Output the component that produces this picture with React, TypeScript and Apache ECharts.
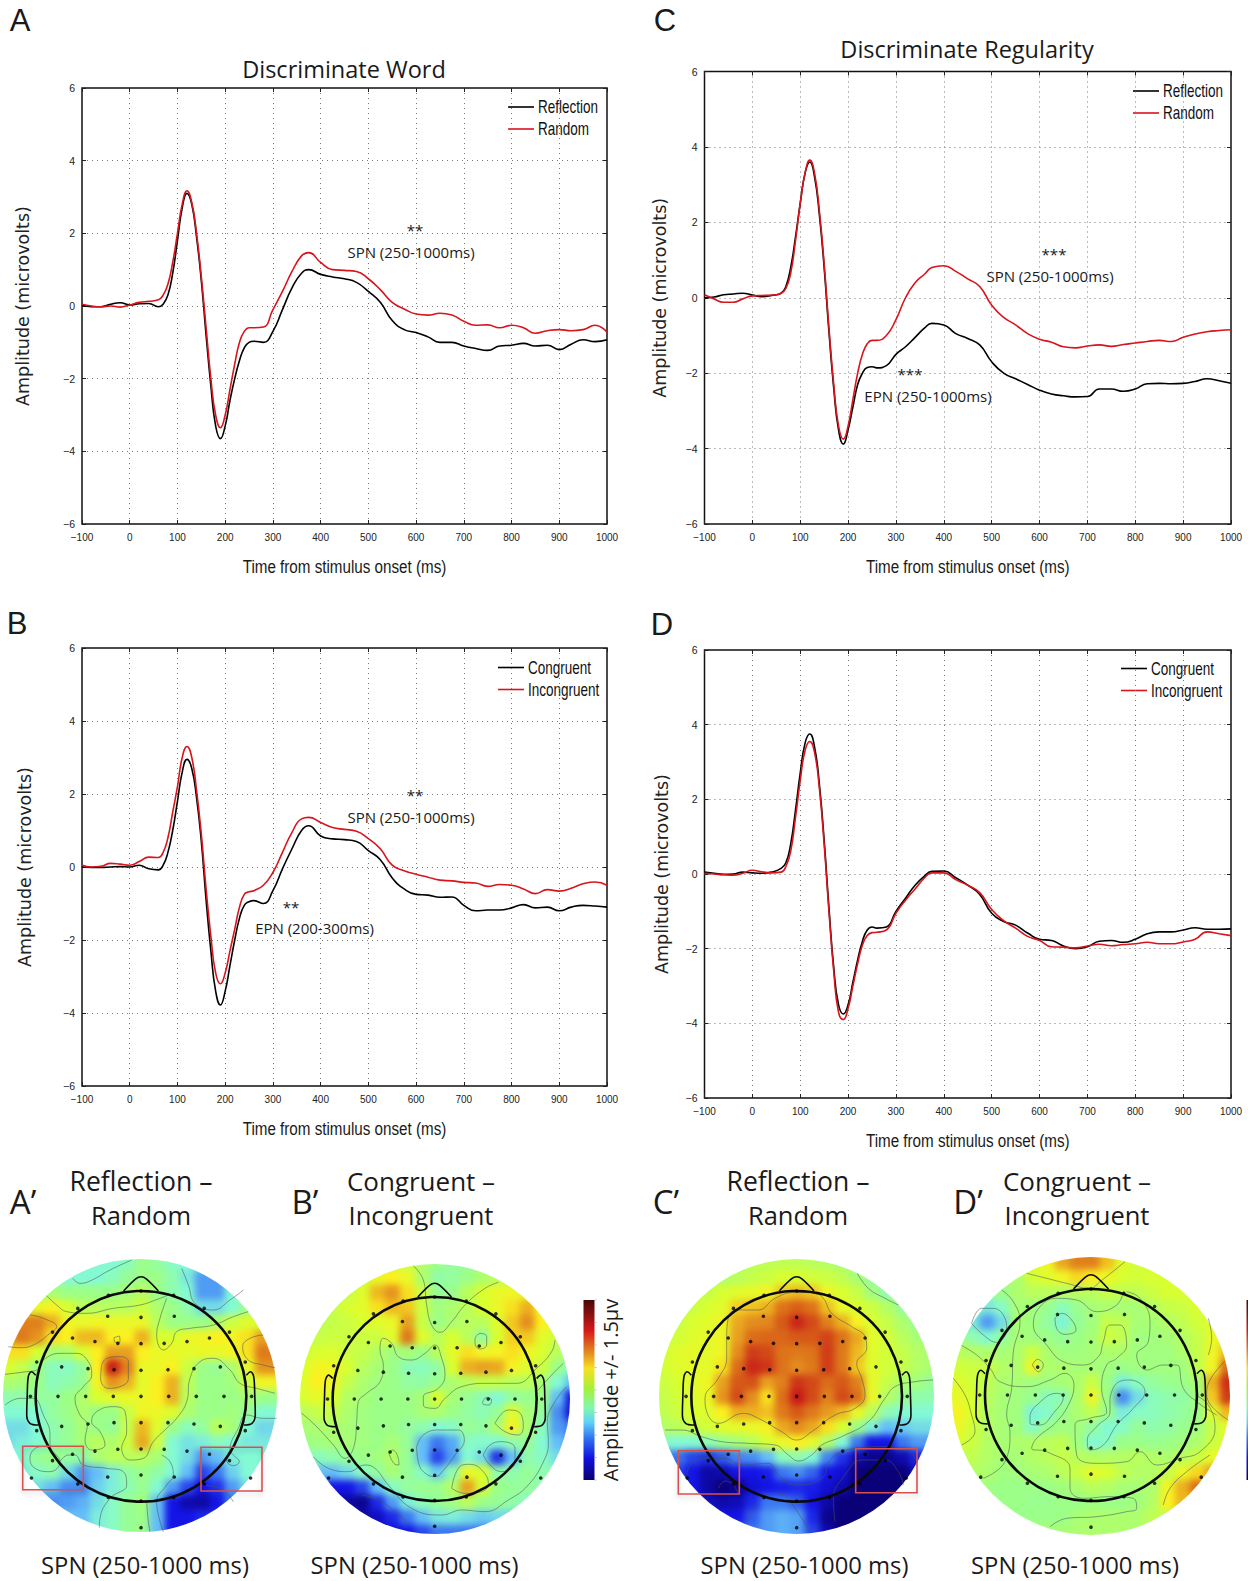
import React, { useEffect, useRef } from "react";
import * as echarts from "echarts";

// ---------- waveform data ----------
const times = [-100,-80,-60,-40,-20,0,20,40,60,70,80,90,100,110,120,130,140,150,160,170,180,190,200,210,220,230,240,250,260,280,300,320,340,360,375,400,425,450,475,500,525,550,575,600,625,650,675,700,725,750,775,800,825,850,875,900,925,950,975,1000];
const aBlack = [.02,-.02,-.02,.05,.09,.03,.06,.07,-.02,.05,.3,.9,1.8,2.7,3.1,2.8,1.9,.7,-.8,-2.2,-3.3,-3.65,-3.3,-2.6,-2,-1.5,-1.15,-1,-.97,-1,-.7,-.1,.5,.9,1,.87,.8,.75,.65,.4,.1,-.4,-.65,-.73,-.85,-1,-1,-1.1,-1.17,-1.22,-1.1,-1.08,-1.03,-1.1,-1.08,-1.2,-1.05,-.93,-.98,-.93];
const aRed = [.05,0,-.02,0,-.03,.03,.1,.13,.17,.3,.6,1.2,2,2.8,3.17,2.85,2,.8,-.6,-2,-3,-3.35,-3,-2.3,-1.6,-1,-.7,-.6,-.6,-.58,-.1,.4,.95,1.38,1.47,1.2,1,.98,.95,.75,.45,.1,-.08,-.22,-.25,-.2,-.25,-.42,-.53,-.52,-.6,-.53,-.6,-.75,-.68,-.65,-.68,-.65,-.53,-.72];
const cBlack = [0,.02,.08,.1,.12,.07,.03,.06,.12,.3,.8,1.6,2.5,3.3,3.6,3.2,2.2,.8,-.9,-2.4,-3.5,-3.88,-3.5,-2.9,-2.3,-2,-1.85,-1.83,-1.86,-1.8,-1.5,-1.3,-1.05,-.8,-.68,-.72,-.95,-1.08,-1.25,-1.7,-2,-2.15,-2.3,-2.45,-2.55,-2.6,-2.63,-2.62,-2.42,-2.42,-2.48,-2.42,-2.28,-2.27,-2.28,-2.27,-2.22,-2.15,-2.2,-2.27];
const cRed = [.08,-.03,-.12,-.12,-.03,.05,.06,.07,.12,.25,.65,1.5,2.5,3.3,3.65,3.3,2.3,.9,-.8,-2.3,-3.4,-3.75,-3.4,-2.7,-2,-1.5,-1.22,-1.13,-1.13,-1,-.58,0,.4,.63,.8,.85,.7,.5,.3,-.2,-.52,-.72,-.95,-1.1,-1.18,-1.3,-1.33,-1.28,-1.25,-1.29,-1.24,-1.2,-1.16,-1.13,-1.16,-1.05,-.96,-.9,-.87,-.85];
const bBlack = [0,-.01,-.01,0,.01,0,.05,-.05,-.08,.05,.4,1,1.8,2.6,2.95,2.7,1.9,.7,-.9,-2.3,-3.4,-3.78,-3.4,-2.7,-2,-1.4,-1.05,-.95,-.92,-1,-.65,-.05,.5,1,1.13,.85,.77,.75,.7,.45,.2,-.3,-.6,-.75,-.77,-.83,-.82,-1.05,-1.2,-1.18,-1.18,-1.12,-1.03,-1.12,-1.1,-1.2,-1.1,-1.05,-1.07,-1.1];
const bRed = [.05,0,.02,.1,.08,.05,.15,.27,.26,.4,.8,1.5,2.2,3,3.3,3,2.1,.9,-.6,-1.9,-2.9,-3.2,-2.9,-2.3,-1.7,-1.1,-.75,-.68,-.65,-.5,-.15,.4,.95,1.32,1.36,1.22,1.08,1.03,.98,.78,.5,.05,-.1,-.2,-.28,-.36,-.38,-.42,-.44,-.53,-.48,-.5,-.6,-.73,-.62,-.66,-.58,-.46,-.41,-.5];
const dBlack = [.05,.02,-.01,0,.05,.03,.02,.05,.15,.3,.8,1.7,2.7,3.5,3.75,3.4,2.4,.9,-.9,-2.5,-3.5,-3.75,-3.5,-2.9,-2.3,-1.8,-1.5,-1.42,-1.45,-1.42,-1,-.65,-.3,-.05,.07,.08,-.1,-.3,-.55,-1.05,-1.27,-1.37,-1.58,-1.75,-1.78,-1.93,-2,-1.95,-1.8,-1.78,-1.83,-1.75,-1.6,-1.55,-1.55,-1.5,-1.44,-1.48,-1.48,-1.47];
const dRed = [.02,0,-.02,-.03,.02,.1,.06,.03,.05,.2,.6,1.5,2.5,3.3,3.55,3.25,2.3,.8,-1,-2.6,-3.7,-3.9,-3.6,-3,-2.4,-1.9,-1.65,-1.57,-1.56,-1.5,-1.05,-.7,-.4,-.1,.03,.03,-.15,-.3,-.5,-.95,-1.25,-1.45,-1.67,-1.78,-1.95,-1.96,-1.98,-1.93,-1.88,-1.92,-1.89,-1.87,-1.83,-1.87,-1.87,-1.82,-1.75,-1.55,-1.6,-1.65];

// ---------- scalp map cell values (jet scale -5 .. 5), 19 x 19 cells ----------
const mapA = [
[-1,-1,-1,-1,-1,-1,-1,-1,-.7,0,-.3,-.8,-1,-1,-1,-1,-1,-1,-1],
[-1,-1,-1,-.6,-1,-1,-1,-.7,-.2,0,0,-.5,-1.3,-2.5,-2.5,-1.5,-1,-1,-1],
[0,0,0,.2,0,0,0,0,.2,.5,0,-.5,-1,-2.5,-2.5,-1,-.5,-.5,-.5],
[1,1,1.5,1.9,1,.5,.5,.5,.5,.8,.3,0,-.5,-1.5,-1.5,-1,0,.3,.3],
[2.8,3.5,3.5,2.8,1.7,1.5,1.7,1.5,1.5,1.5,.5,0,0,0,.3,.8,1.2,1,1],
[3.2,3.6,3.2,2.2,2,2.7,2.7,2,2,2.8,1,1,1.5,1.7,2,1.8,2.2,3,2.8],
[2.2,2.2,1,.2,.3,1,2,3,3,2,1.5,1.5,1.3,1.5,1.5,1.7,2.2,3.6,3.6],
[1,.7,0,-.7,-.8,-.3,2,4.9,3.5,1.5,1.5,2,.8,0,-.2,.3,1.5,3.2,3.2],
[.3,.2,0,-.7,-.5,-.2,1.7,3.2,2.8,1.3,2,2.8,.6,0,0,.1,.8,1.7,1.7],
[-.5,-.5,-.3,-.3,0,.3,1,1.3,1.5,1.5,2,2.8,.5,0,0,0,.2,0,0],
[-1,-1,-1,-.3,0,.3,0,0,.7,1.7,1.5,1.2,.3,0,0,.1,-.2,-1,-1],
[-1.5,-1.5,-1,-.5,-.2,.2,0,-.2,.7,2.7,1.2,0,-.7,-.3,.5,.2,-1,-1.6,-1.6],
[-1.5,-1.2,-1,-.5,-.2,.2,.5,.3,.8,2.9,.8,-1,-1.4,-1.2,-.7,-1,-1.3,-1.3,-1.3],
[-1,-1,-.2,0,-.3,-.5,.2,.5,.5,.5,.2,-1,-1.5,-2.5,-2,-1.2,-1,-1,-1],
[-1.2,-1.2,-.8,-.5,-1.5,-2.5,-2,-1.2,-.4,0,-.4,-1,-2,-3.5,-3,-1.7,-1,-1,-1],
[-1.5,-1.5,-1.5,-2,-2.7,-2.7,-1.7,-1.2,-.6,-.1,-1,-2.5,-3.5,-4,-3.7,-2.5,-1.5,-1.5,-1.5],
[-2.7,-2.7,-2.7,-2.7,-2.5,-2.2,-1.5,-.8,-.2,.1,-2,-4,-4.5,-4.6,-4,-3,-3,-3,-3],
[-2,-2,-2,-2,-2,-2,-1.2,-.8,-.2,0,-2,-4,-4,-3.8,-3.8,-3.8,-3.8,-3.8,-3.8],
[-2,-2,-2,-2,-2,-2,-1.2,-.8,-.2,0,-2,-4,-4,-3.8,-3.8,-3.8,-3.8,-3.8,-3.8],
];
const mapB = [
[.8,.8,.8,.8,.8,.8,.8,.8,.4,0,-.3,-.2,.2,.4,.5,.5,.5,.5,.5],
[.8,.8,.8,.8,.8,1.5,2,1.5,.3,-.4,-.3,0,.3,.5,.7,.7,.7,.7,.7],
[.5,.5,.5,.7,1.2,2.7,3.2,2.2,.8,-.2,-.1,.5,1,1.5,1.6,1.4,1,1,1],
[.5,.5,.7,1,1.3,2.2,2.7,2.5,.8,.1,.3,.5,1,1.5,2.2,2.8,2,1.3,1.3],
[.5,.5,.7,.8,1,1.2,1.5,3,.8,0,.3,.5,.5,1.2,2.5,3.3,2,1,1],
[.6,.7,.8,.8,.8,.8,1.2,3.6,1.2,.5,1,.5,-.3,1,2.4,2.5,1.3,.8,.8],
[.8,1,1.1,.8,.7,.4,.1,.2,0,.5,1.3,2.2,1.7,1.8,2.2,1.7,1,.5,0],
[1,1.8,1.7,1,.5,.2,0,-.6,-.7,-.4,1,2.8,3,2.9,1.8,1.2,.8,0,-.8],
[1.2,2,1.7,.7,.3,.1,0,-.3,-.4,-.1,.3,.5,.7,.7,.5,.5,.2,-1,-2],
[1,1.4,1.1,.4,.2,0,0,0,.2,1,.2,-.2,-.6,-1,-.3,-.1,0,-2,-4],
[.5,.7,.7,.3,.1,0,0,0,.2,.3,0,-.3,-.6,-.2,1.2,.2,-.3,-2.7,-4.2],
[.2,.3,.3,.2,.1,0,0,-.3,-.5,-1,-.8,-.2,-.3,.3,1.8,.3,-.7,-2.5,-3],
[0,.1,.2,.2,.1,0,.2,-.2,-2,-3,-2.3,-.8,-.9,-1,-.5,-.2,-1,-2,-2.5],
[-.5,-.7,-.5,-.2,0,.1,.4,-.2,-2,-3.5,-2.5,-1,-1.5,-3.7,-2,-.5,-.8,-1.5,-1.5],
[-2,-2,-2,-1.5,-.8,-.3,.2,-.2,-.8,-1.8,-.5,1.5,1,-.5,-.5,-.2,-.5,-.8,-.8],
[-4,-4,-4,-4,-3.5,-2,-.8,-.3,-.1,-.1,.4,3,1,0,-.2,-.3,-.5,-.5,-.5],
[-4.6,-4.6,-4.6,-4.6,-4.8,-3.8,-2.5,-1.2,-.6,-.2,.1,.5,0,-.2,-.4,-.7,-.7,-.7,-.7],
[-4.5,-4.5,-4.5,-4.5,-4.5,-4.3,-3.8,-3,-2,-1.3,-1.2,-1.5,-1.8,-1.6,-1.6,-1.6,-1.6,-1.6,-1.6],
[-4.5,-4.5,-4.5,-4.5,-4.5,-4.5,-4.2,-4,-3.5,-3,-3,-3,-3,-3,-3,-3,-3,-3,-3],
];
const mapC = [
[.3,.3,.3,.3,.3,.4,.5,.6,.6,.6,.5,.4,.2,-.3,-.3,-.3,-.3,-.3,-.3],
[.3,.3,.3,.3,.3,.5,.7,.8,1,1,.9,.8,.6,.2,-.3,-.8,-.8,-.8,-.8],
[.5,.5,.5,.7,1,1.2,1.4,1.7,2.5,2.7,2.5,1.5,1,.7,.1,-.5,-.8,-.8,-.8],
[.5,.5,.8,1,1.3,2.4,2.6,2.8,3.7,4,3.7,2.6,1.5,1,.8,.4,-.2,-.8,-.8],
[.3,.7,1,1.3,1.6,2.9,3.3,3.4,4.1,4.8,4.3,3.5,2.8,1.8,1,.7,.3,-.2,-.2],
[.6,.9,1.2,1.4,1.6,3,3.8,3.9,3.9,4.1,4.1,4.4,3.7,2.9,1.3,.9,.5,.2,0],
[.9,1.2,1.4,1.3,1.7,3.3,4.5,4.3,3.7,3.6,3.7,4.5,3.6,2.7,1.2,.9,.7,.4,.2],
[.9,1.2,1.4,1.3,2.2,3.8,4.8,4.6,3.7,3.3,3.6,4.5,3.6,2.5,1.2,.9,.7,.4,.2],
[.8,1,1.2,1.6,3,4.1,4.2,3,3.5,4.6,4.3,3.8,4.1,3.5,1.4,.7,.3,.1,-.2],
[.7,.9,1.1,1.5,3.2,4.3,3.3,2.2,3.8,5,4.3,3.5,4.3,3.8,1.5,.4,-.1,-.5,-.5],
[.6,.8,1,1.2,2,2.8,2.8,2.6,3.6,4.1,3.6,3.1,2.7,1.5,.5,-.6,-1,-1,-1],
[.4,.5,.7,.9,1.2,1.3,1.5,1.8,2.9,3.3,2.9,2.2,1,0,-1.2,-2,-1.8,-1.5,-1.5],
[-.8,-1,-1,-.6,-.1,.2,.5,1,1.5,2,1.4,.4,-1,-3,-4,-4,-3,-2.5,-2.5],
[-3,-3,-3.5,-3.7,-3.3,-2.8,-2.7,-2,-.7,-.5,-1,-2.8,-3.7,-4.5,-4.8,-4.8,-4.5,-3.8,-3.8],
[-3.5,-3.5,-4,-4.6,-4.5,-4,-4,-3.9,-3,-2.7,-3.2,-4,-4.2,-5,-5,-5,-5,-4.3,-4.3],
[-4,-4,-4,-4.6,-5,-4.8,-4.2,-4,-3.9,-3.8,-3.9,-4.2,-4.5,-5,-5,-5,-5,-5,-5],
[-4.3,-4.3,-4.3,-4.3,-4.5,-4.4,-3.8,-3,-3,-3.3,-4,-4.6,-5,-5,-5,-5,-5,-5,-5],
[-4,-4,-4,-4,-4,-4,-3.3,-2.5,-2.2,-2.4,-3.8,-4.8,-5,-5,-5,-5,-5,-5,-5],
[-3,-3,-3,-3,-3,-3,-3,-2.5,-2.2,-2.4,-3.5,-4.5,-5,-5,-5,-5,-5,-5,-5],
];
const mapD = [
[1,1,1,1,1,1.2,1.7,2.9,3.5,3.5,2.6,1.2,.9,.9,.9,.9,.9,.9,.9],
[.3,.3,.3,.3,.3,.9,1.2,1.7,2.3,2,1.5,1,.9,1,1,1,1,1,1],
[-.3,-.3,-.3,0,.3,.5,.5,.4,.5,.5,.7,.6,.6,.8,1,1,1.2,1.2,1.2],
[-.4,-.4,-1.3,-.8,.2,.1,-.1,-.7,-.1,.2,.3,.2,.2,.4,.7,.8,1,1.1,1.1],
[-1.3,-1.3,-2.5,-1.5,.2,.1,-.3,-1.1,-.2,.1,.7,.6,.2,.2,.4,.6,.9,1.2,1.2],
[.2,-.5,-1,-.3,.2,.1,0,-.2,0,.2,.8,.6,.1,.1,.2,.4,.7,1.4,1.7],
[.5,.4,.3,.2,.3,.8,.3,.1,.1,.2,.3,.3,.1,.1,.1,.3,.7,1.6,2.7],
[.9,.8,.7,.4,.3,1.6,.3,.3,.2,.2,.1,0,.1,.1,.1,.1,.6,1.7,3.8],
[1.2,.9,.6,.3,.2,.1,.1,.2,.3,.8,0,-1.2,-.7,-.3,-.1,0,.2,2.8,4.7],
[1.4,1,.5,.2,.1,-.1,-.7,-.6,.3,1.6,0,-2.7,-1.5,-.7,-.5,-.4,.1,2.5,4.5],
[1.8,1.1,.4,.2,.1,-1.1,-.9,-.1,.3,.6,0,-1.2,-.8,-.7,-.5,-.3,0,1.2,2.7],
[1.6,.9,.4,.2,.1,-.8,-.1,.1,.1,-.3,-1,-.8,-.2,-.5,-.4,-.1,.1,.7,1.3],
[1,.8,.4,.2,.3,.4,.5,.6,.1,-1,-.8,0,0,-.1,0,.1,.3,.8,1.2],
[.6,.6,.4,.2,.2,.4,.5,.7,.5,.4,.4,.4,.5,.4,.3,.5,.8,1.5,1.5],
[.4,.4,.3,.1,.1,.2,.3,.5,.8,1.3,1,.6,.4,.4,.7,1.5,2.3,3,3],
[.1,.1,.1,0,0,0,0,.1,.3,.5,.4,.2,.2,.3,1.6,2.8,3.8,3.8,3.8],
[0,0,0,0,0,-.1,-.1,0,0,.1,0,0,.1,.4,2,2.7,2.7,2.7,2.7],
[0,0,0,0,0,0,0,0,.2,.3,.3,.3,.3,.6,.6,.6,.6,.6,.6],
[.2,.2,.2,.2,.2,.2,.2,.2,.3,.3,.3,.3,.3,.3,.3,.3,.3,.3,.3],
];

// ---------- scalp map outlines, electrodes and contours ----------
const electrodeX = [-.31,0,.31,-.6,-.316,0,.316,.6,-.84,-.65,-.437,-.22,0,.22,.437,.65,.84,-.99,-.753,-.503,-.256,0,.256,.503,.753,.99,-1.05,-.788,-.525,-.263,0,.263,.525,.788,1.05,-.99,-.753,-.503,-.256,0,.256,.503,.753,.99,-.84,-.65,-.437,-.22,0,.22,.437,.65,.84,-1.04,-.6,-.316,0,.316,.6,1.04,-.31,0,.31,0];
const electrodeY = [.96,1,.96,.835,.76,.75,.76,.835,.61,.554,.52,.503,.5,.503,.52,.554,.61,.326,.28,.263,.253,.247,.253,.263,.28,.326,0,0,0,0,0,0,0,0,0,-.326,-.285,-.263,-.25,-.25,-.25,-.263,-.285,-.326,-.61,-.55,-.52,-.503,-.5,-.503,-.52,-.55,-.61,-.775,-.832,-.766,-.747,-.766,-.832,-.775,-.96,-.994,-.96,-1.247];
const noseLine = [[-.165,1],[-.05,1.115],[0,1.135],[.05,1.115],[.165,1]];
const earLeft = [[-1.0,.2],[-1.04,.234],[-1.07,.187],[-1.08,.013],[-1.085,-.177],[-1.054,-.256],[-.975,-.272]];
const earRight = [[1.0,.2],[1.04,.234],[1.07,.187],[1.08,.013],[1.085,-.177],[1.054,-.256],[.975,-.272]];

const contoursA = [
[[218,70],[240,85],[270,78],[330,45],[395,15]],
[[140,122],[170,150],[200,170],[260,175],[340,160],[420,150],[480,130],[505,120]],
[[500,130],[480,190],[470,240],[490,285],[515,265],[530,230],[570,220],[640,210],[700,185],[745,170]],
[[90,180],[130,190],[170,215],[150,235],[100,270],[60,278],[25,275]],
[[790,240],[750,250],[728,275],[745,315],[790,330],[825,338]],
[[15,358],[80,350],[110,345],[130,315],[180,295],[230,295],[265,320],[275,360],[250,395],[225,430],[240,480],[262,510],[255,555],[275,585],[315,570],[300,530],[275,500],[290,470],[340,455],[375,470],[380,530],[365,580],[390,615],[430,610],[460,560],[500,520],[530,490],[560,440],[570,370],[600,320],[640,310],[690,345],[720,385],[770,400],[825,415]],
[[305,330],[320,310],[360,305],[385,320],[385,370],[360,395],[325,400],[302,370],[305,330]],
[[342,248],[358,243],[360,262],[345,262],[342,248]],
[[15,450],[60,430],[100,430],[130,480],[150,540],[150,570],[180,620],[150,650],[105,640],[90,610],[100,585],[125,575],[150,575]],
[[180,620],[205,600],[225,600],[250,630],[320,640],[370,650],[380,690],[330,730],[300,790],[298,818]],
[[830,490],[790,490],[740,480],[715,520],[690,585],[700,600],[718,620],[700,632],[680,615],[690,585]],
[[485,600],[510,620],[520,660],[500,690],[470,740],[490,830]],
[[600,690],[660,700],[700,740]],
[[545,40],[565,90],[585,145],[640,165],[690,135],[730,105]],
[[440,740],[445,800],[450,830]],
];
const contoursB = [
[[355,32],[385,75],[395,150],[410,210],[435,232],[470,200],[510,150],[570,100],[610,82]],
[[540,250],[555,235],[575,245],[575,270],[555,282],[540,265],[540,250]],
[[780,255],[770,290],[725,340],[665,385],[580,385],[500,395],[450,430],[420,460],[385,450],[385,425],[430,400],[450,360],[440,310],[420,270],[390,295],[350,315],[310,305],[290,265],[265,250],[255,285],[265,330],[255,380],[215,415],[190,440],[185,500],[178,570],[150,610],[115,570],[60,510],[20,475]],
[[600,505],[640,465],[670,470],[685,515],[670,540],[630,530],[600,505]],
[[563,440],[575,427],[590,435],[582,450],[565,448],[563,440]],
[[365,575],[385,540],[430,525],[490,525],[508,555],[480,600],[450,640],[420,665],[385,650],[370,620],[365,575]],
[[565,600],[585,570],[620,560],[660,580],[660,620],[620,650],[585,630],[565,600]],
[[470,700],[490,640],[520,628],[555,640],[580,685],[560,710],[510,715],[470,700]],
[[282,595],[292,585],[310,610],[312,630],[300,628],[282,595]],
[[55,605],[100,640],[160,650],[210,630],[240,640],[280,690],[350,760],[440,780],[500,765],[570,770],[640,735],[700,690],[750,610],[760,560],[757,500],[780,440],[815,395]],
[[730,405],[770,360],[805,325]],
[[200,720],[250,735],[300,770],[360,825]],
];
const contoursC = [
[[215,240],[225,175],[260,165],[310,165],[360,130],[420,112],[480,115],[505,130],[530,175],[590,215],[630,245],[635,280],[605,325],[620,370],[630,420],[600,460],[540,480],[470,530],[425,555],[380,530],[310,490],[265,475],[190,505],[155,470],[150,430],[190,370],[215,310],[215,240]],
[[607,55],[640,100],[690,130],[730,150]],
[[30,525],[80,525],[140,545],[200,560],[280,565],[360,570],[400,600],[430,618],[470,600],[500,570],[560,545],[640,500],[690,430],[720,395],[780,380],[835,375]],
[[95,660],[110,625],[150,610],[210,610],[260,630],[340,625],[370,660],[420,690],[500,670],[530,610],[600,580],[680,575],[760,590],[785,620]],
[[190,700],[210,678],[235,690],[248,715]],
[[540,800],[535,730],[570,660],[620,615],[690,615],[730,650],[745,690]],
[[275,800],[310,740],[350,715],[385,720],[420,760],[465,830]],
];
const contoursD = [
[[230,55],[290,70],[350,85],[420,100],[450,80],[525,20]],
[[65,205],[95,160],[130,160],[165,190],[170,220],[140,262],[100,240],[65,205]],
[[155,105],[190,140],[210,200],[190,290],[185,400],[170,480],[180,530],[165,620],[100,670]],
[[520,110],[500,150],[440,170],[380,135],[320,130],[270,155],[250,210],[290,270],[340,320],[400,330],[445,305],[460,260],[480,210],[510,210],[530,270],[500,310],[470,330],[455,400],[470,470],[420,490],[375,510],[380,600],[440,625],[530,620],[570,590],[620,630],[690,610],[750,590],[795,520],[775,450],[735,420]],
[[530,110],[570,130],[600,200],[595,260],[560,300],[590,345],[640,330],[680,330],[700,400],[740,440],[800,480]],
[[315,190],[335,175],[365,195],[378,225],[345,238],[320,220],[315,190]],
[[247,330],[262,313],[280,330],[265,350],[247,330]],
[[35,272],[80,300],[120,340],[150,380],[230,395],[300,375],[345,355],[372,390],[360,440],[320,500],[260,550],[245,580],[290,590],[360,640],[360,700],[400,730],[480,725],[550,730],[560,760],[530,770],[440,785],[350,790],[300,815]],
[[240,480],[255,455],[320,415],[340,425],[310,475],[270,510],[240,505],[240,480]],
[[480,430],[500,385],[540,375],[585,410],[550,460],[500,510],[460,570],[420,585],[412,555],[440,515],[480,470],[480,430]],
[[10,370],[45,420],[65,480],[75,530],[35,570]],
[[825,318],[780,375],[770,420],[835,495]],
[[775,190],[785,250],[775,300]],
[[640,750],[660,700],[710,650],[780,600]],
];

const jetColors = ["#0a0078","#1414e6","#3c78f0","#64bef8","#84fad4","#9cff88","#d8ff30","#fcf020","#e8a020","#d86018","#c81818"];
const sans = "'Liberation Sans', sans-serif";
const humanist = "'Open Sans', sans-serif";

const panels = [
  { left: 82, right: 607, top: 88, bottom: 524, black: aBlack, red: aRed, names: ["Reflection", "Random"], yGap: 50, legendLeft: 508, legendY: 107 },
  { left: 82, right: 607, top: 648, bottom: 1086, black: bBlack, red: bRed, names: ["Congruent", "Incongruent"], yGap: 48, legendLeft: 498, legendY: 667.5 },
  { left: 704.5, right: 1231, top: 71.5, bottom: 524, black: cBlack, red: cRed, names: ["Reflection", "Random"], yGap: 36, legendLeft: 1133, legendY: 91 },
  { left: 704.5, right: 1231, top: 650, bottom: 1098, black: dBlack, red: dRed, names: ["Congruent", "Incongruent"], yGap: 34, legendLeft: 1121, legendY: 668.5 },
];
const maps = [
  { x0: 0, y0: 1255, cx: 423, cy: 424, r: 316, dcx: 140, dcy: 1395.7, dr: 136.7, cells: mapA, contours: contoursA },
  { x0: 295, y0: 1255, cx: 419, cy: 432, r: 306, dcx: 435, dcy: 1398.5, dr: 135, cells: mapB, contours: contoursB },
  { x0: 655, y0: 1255, cx: 425, cy: 424, r: 316, dcx: 796.7, dcy: 1396.7, dr: 137.7, cells: mapC, contours: contoursC },
  { x0: 950, y0: 1255, cx: 423, cy: 420, r: 318, dcx: 1091.2, dcy: 1395.5, dr: 139, cells: mapD, contours: contoursD },
];

const neg = (v: number) => (v < 0 ? "\u2212" + Math.abs(v) : String(v));

function mainOption() {
  const grid: any[] = [], xAxis: any[] = [], yAxis: any[] = [], series: any[] = [];
  const tick = { show: true, inside: true, length: 4, lineStyle: { color: "#222", width: 1 } };
  const dotted = { show: true, showMinLine: false, showMaxLine: false, lineStyle: { color: "#777", type: [1, 4], width: 1 } };
  const noLine = { show: false, onZero: false };
  panels.forEach((p, i) => {
    grid.push({ left: p.left, top: p.top, width: p.right - p.left, height: p.bottom - p.top, show: true, borderColor: "#111", borderWidth: 1.5, backgroundColor: "transparent" });
    xAxis.push({
      type: "value", gridIndex: i, min: -100, max: 1000, interval: 100,
      axisLine: noLine, axisTick: tick, splitLine: dotted,
      axisLabel: { fontFamily: sans, fontSize: 10, color: "#222", margin: 8, formatter: neg, hideOverlap: false },
    });
    yAxis.push({
      type: "value", gridIndex: i, min: -6, max: 6, interval: 2,
      name: "Amplitude (microvolts)", nameLocation: "middle", nameGap: p.yGap,
      nameTextStyle: { fontFamily: "'DejaVu Sans', sans-serif", fontSize: 17.5, color: "#222" },
      axisLine: noLine, axisTick: tick, splitLine: dotted,
      axisLabel: { fontFamily: sans, fontSize: 10.5, color: "#222", margin: 7, formatter: neg },
    });
    series.push(
      { type: "line", name: p.names[0], xAxisIndex: i, yAxisIndex: i, data: times.map((t, k) => [t, p.black[k]]), smooth: 0.5, showSymbol: false, symbol: "none", lineStyle: { color: "#000", width: 1.6 }, z: 3 },
      { type: "line", name: p.names[1], xAxisIndex: i, yAxisIndex: i, data: times.map((t, k) => [t, p.red[k]]), smooth: 0.5, showSymbol: false, symbol: "none", lineStyle: { color: "#d8141c", width: 1.6 }, z: 4 },
    );
  });
  maps.forEach((m, j) => {
    const gi = 4 + j;
    grid.push({ left: m.x0, top: m.y0, width: 285, height: 285, show: false });
    xAxis.push({ type: "value", gridIndex: gi, min: 0, max: 855, show: false });
    yAxis.push({ type: "value", gridIndex: gi, min: 0, max: 855, inverse: true, show: false });
    const toFrame = (pts: number[][]) => pts.map(([x, y]) => [m.cx + m.r * x, m.cy - m.r * y]);
    m.contours.forEach((c) => series.push({ type: "line", xAxisIndex: gi, yAxisIndex: gi, data: c, smooth: 0.45, showSymbol: false, symbol: "none", lineStyle: { color: "rgba(70,85,85,0.62)", width: 0.9 }, z: 2, silent: true }));
    [noseLine, earLeft, earRight].forEach((c) => series.push({ type: "line", xAxisIndex: gi, yAxisIndex: gi, data: toFrame(c), smooth: 0.35, showSymbol: false, symbol: "none", lineStyle: { color: "#0a0a0a", width: 1.6 }, z: 3, silent: true }));
    series.push({ type: "scatter", xAxisIndex: gi, yAxisIndex: gi, data: toFrame(electrodeX.map((x, k) => [x, electrodeY[k]])), symbolSize: 3.6, itemStyle: { color: "#000" }, z: 6, silent: true });
  });
  // second set of axes: inner ticks on the top and right frame edges
  panels.forEach((p, i) => {
    xAxis.push({ type: "value", gridIndex: i, position: "top", min: -100, max: 1000, interval: 100, axisLine: noLine, axisTick: tick, axisLabel: { show: false }, splitLine: { show: false } });
    yAxis.push({ type: "value", gridIndex: i, position: "right", min: -6, max: 6, interval: 2, axisLine: noLine, axisTick: tick, axisLabel: { show: false }, splitLine: { show: false } });
  });

  const text = (t: string, x: number, y: number, fontSize: number, fontFamily = humanist, extra: any = {}, el: any = {}) => ({
    type: "text", x, y, silent: true, ...el,
    style: { text: t, fontSize, fontFamily, fill: "#1a1a1a", textAlign: "center", textVerticalAlign: "middle", ...extra },
  });
  const graphic: any[] = [
    text("A", 20, 20, 31, sans),
    text("B", 17, 623, 31, sans),
    text("C", 665, 20, 31, sans),
    text("D", 662, 624, 31, sans),
    text("Discriminate Word", 344, 69, 23.5),
    text("Discriminate Regularity", 967, 48.5, 23.5),
    text("**", 415, 230, 15), text("SPN (250-1000ms)", 411, 252, 15),
    text("***", 1054, 254, 15), text("SPN (250-1000ms)", 1050, 276, 15),
    text("***", 910, 374, 15), text("EPN (250-1000ms)", 928, 396, 15),
    text("**", 415, 795, 15), text("SPN (250-1000ms)", 411, 816.5, 15),
    text("**", 291, 907, 15), text("EPN (200-300ms)", 314.5, 927.5, 15),
    text("A\u2019", 23, 1201, 33), text("B\u2019", 305, 1201, 33), text("C\u2019", 666, 1201, 33), text("D\u2019", 968, 1201, 33),
    text("Reflection \u2013", 141, 1181, 26.5), text("Random", 141, 1215, 25.5),
    text("Congruent \u2013", 421, 1181, 26), text("Incongruent", 421, 1215, 25.5),
    text("Reflection \u2013", 798, 1181, 26.5), text("Random", 798, 1215, 25.5),
    text("Congruent \u2013", 1077, 1181, 26), text("Incongruent", 1077, 1215, 25.5),
    text("SPN (250-1000 ms)", 145, 1565, 23.8), text("SPN (250-1000 ms)", 414.5, 1565, 23.8),
    text("SPN (250-1000 ms)", 804.5, 1565, 23.8), text("SPN (250-1000 ms)", 1075, 1565, 23.8),
    text("Amplitude +/- 1.5\u03BCv", 610, 1390, 20, humanist, {}, { rotation: Math.PI / 2 }),
  ];
  panels.forEach((p) => {
    // x axis title and legend: condensed lettering, as in the reference
    graphic.push(text("Time from stimulus onset (ms)", (p.left + p.right) / 2, p.bottom + 42.5, 19, sans, {}, { scaleX: 0.8 }));
    p.names.forEach((n, k) => {
      const y = p.legendY + k * 22;
      graphic.push({ type: "line", silent: true, shape: { x1: p.legendLeft, y1: y, x2: p.legendLeft + 26, y2: y }, style: { stroke: k ? "#d8141c" : "#000", lineWidth: 1.6 } });
      graphic.push(text(n, p.legendLeft + 30, y, 18, sans, { textAlign: "left", fill: "#111" }, { scaleX: 0.75 }));
    });
  });
  maps.forEach((m) => {
    graphic.push({ type: "circle", silent: true, z: 5, shape: { cx: m.x0 + m.cx / 3, cy: m.y0 + m.cy / 3, r: m.r / 3 }, style: { fill: "none", stroke: "#0a0a0a", lineWidth: 2.6 } });
  });
  const redBox = (x: number, y: number, w: number, h: number) => ({ type: "rect", silent: true, z: 5, shape: { x, y, width: w, height: h }, style: { fill: "none", stroke: "#d85050", lineWidth: 1.6, shadowBlur: 5, shadowColor: "rgba(0,0,0,0.18)", shadowOffsetY: 3 } });
  graphic.push(redBox(22.7, 1446.3, 60.6, 43.4), redBox(201, 1447.3, 61, 43.7), redBox(678.3, 1450.7, 61, 43.3), redBox(855.7, 1448.7, 61.3, 44));
  const barFill = { type: "linear", x: 0, y: 0, x2: 0, y2: 1, colorStops: [
    { offset: 0, color: "#4a0808" }, { offset: 0.07, color: "#801010" }, { offset: 0.17, color: "#d81818" }, { offset: 0.28, color: "#e08020" },
    { offset: 0.38, color: "#f8e020" }, { offset: 0.49, color: "#a8f038" }, { offset: 0.6, color: "#80f8b0" }, { offset: 0.68, color: "#60d0f8" },
    { offset: 0.77, color: "#3070f0" }, { offset: 0.88, color: "#1010e0" }, { offset: 1, color: "#0a0070" } ] };
  graphic.push({ type: "rect", silent: true, shape: { x: 583.5, y: 1300, width: 11, height: 180 }, style: { fill: barFill } });
  graphic.push({ type: "rect", silent: true, shape: { x: 1246.5, y: 1300, width: 1.5, height: 180 }, style: { fill: barFill } });
  for (let k = 0; k <= 8; k++) {
    const y = 1300 + (k * 180) / 8;
    graphic.push({ type: "line", silent: true, shape: { x1: 594.5, y1: y, x2: 596.5, y2: y }, style: { stroke: "#bbb", lineWidth: 1 } });
  }
  return { animation: false, backgroundColor: "transparent", tooltip: { show: false }, grid, xAxis, yAxis, series, graphic };
}

function heatOption(cells: number[][]) {
  // the outer row and column are repeated so that the soft edge falls outside the disc
  const padded = [cells[0], ...cells, cells[cells.length - 1]].map((r) => [r[0], ...r, r[r.length - 1]]);
  const cats = padded.map((_, i) => String(i));
  const data: number[][] = [];
  padded.forEach((row, y) => row.forEach((v, x) => data.push([x, y, v])));
  return {
    animation: false,
    grid: { left: 0, right: 0, top: 0, bottom: 0 },
    xAxis: { type: "category", data: cats, show: false },
    yAxis: { type: "category", data: cats, inverse: true, show: false },
    visualMap: { show: false, min: -5, max: 5, dimension: 2, inRange: { color: jetColors } },
    series: [{ type: "heatmap", data, progressive: 0, silent: true, itemStyle: { borderWidth: 0 } }],
  };
}

function HeatDisc({ m }: { m: (typeof maps)[number] }) {
  const ref = useRef<HTMLDivElement>(null);
  useEffect(() => {
    const chart = echarts.init(ref.current!, undefined, { renderer: "svg" });
    chart.setOption(heatOption(m.cells));
    return () => chart.dispose();
  }, [m]);
  const left = m.dcx - m.dr, top = m.dcy - m.dr, pad = 15;
  return (
    <div style={{ position: "absolute", left, top, width: 2 * m.dr, height: 2 * m.dr, borderRadius: "50%", overflow: "hidden" }}>
      <div ref={ref} style={{ position: "absolute", left: m.x0 - pad - left, top: m.y0 - pad - top, width: 285 + 2 * pad, height: 285 + 2 * pad, filter: "blur(3.8px)" }} />
    </div>
  );
}

export default function App() {
  const ref = useRef<HTMLDivElement>(null);
  useEffect(() => {
    const chart = echarts.init(ref.current!, undefined, { renderer: "svg" });
    chart.setOption(mainOption());
    return () => chart.dispose();
  }, []);
  return (
    <div style={{ position: "absolute", left: 0, top: 0, width: 1248, height: 1581, background: "#fff", overflow: "hidden" }}>
      {maps.map((m, i) => <HeatDisc key={i} m={m} />)}
      <div ref={ref} style={{ position: "absolute", left: 0, top: 0, width: 1248, height: 1581 }} />
    </div>
  );
}
